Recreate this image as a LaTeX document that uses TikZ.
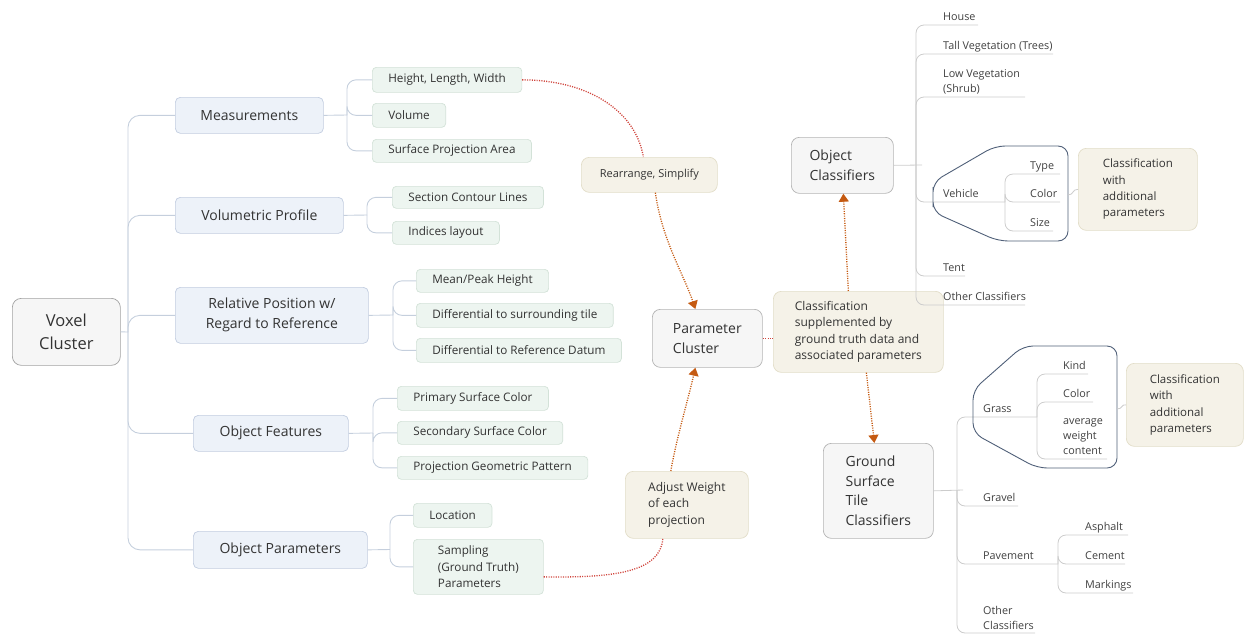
\documentclass[tikz,border=0pt]{standalone}
\usepackage{fontspec}
\setmainfont{Open Sans}
\usetikzlibrary{arrows.meta}

\definecolor{txt}{HTML}{333333}
\definecolor{leaftxt}{HTML}{404040}
\definecolor{lonefill}{HTML}{EDF2F9}
\definecolor{loneline}{HTML}{C2CDE0}
\definecolor{ltwofill}{HTML}{EDF5F0}
\definecolor{ltwoline}{HTML}{D3E2D8}
\definecolor{corefill}{HTML}{F6F6F6}
\definecolor{coreline}{HTML}{B4B4B4}
\definecolor{notefill}{HTML}{F5F2E8}
\definecolor{noteline}{HTML}{E2DDC8}
\definecolor{treeblue}{HTML}{C5CFDD}
\definecolor{treegrey}{HTML}{CCCCCC}
\definecolor{boundary}{HTML}{4F5F78}
\definecolor{relred}{HTML}{D0443C}
\definecolor{relorange}{HTML}{C55A11}

\newcommand\setfs[2]{\fontsize{#1}{#2}\selectfont}

\begin{document}
\begin{tikzpicture}[x=1pt,y=-1pt,
  box/.style={anchor=north west, inner ysep=0pt, text=txt, line width=0.7pt},
  lvone/.style={box, fill=lonefill, draw=loneline, rounded corners=5pt, align=center, font=\setfs{14}{20}},
  lvtwo/.style={box, fill=ltwofill, draw=ltwoline, rounded corners=4pt, inner xsep=16pt, align=left, font=\setfs{11.7}{16.7}},
  core/.style={box, fill=corefill, draw=coreline, rounded corners=8pt, align=left, font=\setfs{14}{19.5}},
  note/.style={box, fill=notefill, draw=noteline, rounded corners=8pt, align=left, font=\setfs{12}{16.5}},
  leaf/.style={anchor=base west, inner sep=0pt, text=leaftxt, align=left, font=\setfs{10.8}{14.7}},
  branchL/.style={draw=treeblue, line width=0.9pt, rounded corners=12pt},
  branchS/.style={draw=treeblue, line width=0.9pt, rounded corners=9pt},
  branchR/.style={draw=treegrey, line width=0.8pt, rounded corners=8pt},
  bound/.style={draw=boundary, line width=0.9pt, rounded corners=10pt},
  relr/.style={draw=relred, line width=1.3pt, dash pattern=on 1.1pt off 1.3pt},
  relo/.style={draw=relorange, line width=1.3pt, dash pattern=on 1.1pt off 1.3pt},
  tip/.style={-{Triangle[width=10pt,length=8pt]}, relorange}
]
\useasboundingbox (0,0) rectangle (1244,635);

% ---------- root ----------
\node[core, align=center, minimum width=108pt, minimum height=67pt,
      font=\setfs{16.5}{23}, rounded corners=9pt, draw=coreline!90!black] (vc) at (12,298) {Voxel\\Cluster};

% ---------- first level ----------
\node[lvone, minimum width=148pt, minimum height=36pt] (m)  at (175,97)  {Measurements};
\node[lvone, minimum width=168pt, minimum height=36pt] (vp) at (175,197) {Volumetric Profile};
\node[lvone, minimum width=193pt, minimum height=56pt] (rp) at (175,287) {Relative Position w/\\Regard to Reference};
\node[lvone, minimum width=155pt, minimum height=36pt] (of) at (193,415) {Object Features};
\node[lvone, minimum width=174pt, minimum height=37pt] (op) at (193,531) {Object Parameters};

% ---------- second level ----------
\node[lvtwo, minimum height=25pt] (hlw) at (372,67)  {Height, Length, Width};
\node[lvtwo, minimum height=24pt] (vol) at (372,103) {Volume};
\node[lvtwo, minimum height=23pt] (spa) at (372,139) {Surface Projection Area};
\node[lvtwo, minimum height=22pt] (scl) at (392,186) {Section Contour Lines};
\node[lvtwo, minimum height=23pt] (il)  at (392,221) {Indices layout};
\node[lvtwo, minimum height=23pt] (mph) at (416,269) {Mean/Peak Height};
\node[lvtwo, minimum height=24pt] (dst) at (416,303) {Differential to surrounding tile};
\node[lvtwo, minimum height=24pt] (drd) at (416,338) {Differential to Reference Datum};
\node[lvtwo, minimum height=24pt] (psc) at (397,386) {Primary Surface Color};
\node[lvtwo, minimum height=23pt] (ssc) at (397,421) {Secondary Surface Color};
\node[lvtwo, minimum height=23pt] (pgp) at (397,456) {Projection Geometric Pattern};
\node[lvtwo, minimum height=24pt] (loc) at (413,503) {Location};
\node[lvtwo, minimum width=130pt, minimum height=55pt] (smp) at (413,539) {Sampling\\(Ground Truth)\\Parameters};

% ---------- left tree ----------
\coordinate (tj) at (128,332);
\draw[branchL] (vc.east) -- (tj);
\foreach \c in {m,vp,rp,of,op} \draw[branchL] (tj) |- (\c.west);

\coordinate (mj) at (347,115);
\draw[branchS] (m.east) -- (mj);
\foreach \c in {hlw,vol,spa} \draw[branchS] (mj) |- (\c.west);
\coordinate (vpj) at (367,215);
\draw[branchS] (vp.east) -- (vpj);
\foreach \c in {scl,il} \draw[branchS] (vpj) |- (\c.west);
\coordinate (rpj) at (393,315);
\draw[branchS] (rp.east) -- (rpj);
\foreach \c in {mph,dst,drd} \draw[branchS] (rpj) |- (\c.west);
\coordinate (ofj) at (373,433);
\draw[branchS] (of.east) -- (ofj);
\foreach \c in {psc,ssc,pgp} \draw[branchS] (ofj) |- (\c.west);
\coordinate (opj) at (390,549.5);
\draw[branchS] (op.east) -- (opj);
\foreach \c in {loc,smp} \draw[branchS] (opj) |- (\c.west);

% ---------- centre ----------
\node[core, minimum width=110pt, minimum height=58pt] (pc) at (652,309) {Parameter\\Cluster};
\node[note, minimum height=35pt, minimum width=136pt, align=center, font=\setfs{11}{15}] (rs) at (581,157) {Rearrange, Simplify};
\node[note, minimum width=123pt, minimum height=67pt] (aw) at (625,471) {Adjust Weight\\of each\\projection};
\node[note, minimum width=170pt, minimum height=81pt] (cs) at (773,291) {Classification\\supplemented by\\ground truth data and\\associated parameters};
\node[core, minimum width=102pt, minimum height=56pt] (oc) at (791,137) {Object\\Classifiers};
\node[core, minimum width=110pt, minimum height=95pt] (gs) at (823,443) {Ground\\Surface\\Tile\\Classifiers};
\node[note, minimum width=119pt, minimum height=82pt, font=\setfs{11.5}{16.3}] (cwa) at (1078,148) {Classification\\with\\additional\\parameters};
\node[note, minimum width=117pt, minimum height=83pt, font=\setfs{11.5}{16.3}] (cwb) at (1126,363) {Classification\\with\\additional\\parameters};

% ---------- relationships ----------
\draw[relr] (hlw.east) .. controls (590,80) and (636,112) .. ([xshift=-6pt]rs.north);
\draw[relo, tip] ([xshift=6pt]rs.south) .. controls (662,240) and (684,275) .. ([xshift=-12pt]pc.north);
\draw[relr] ([yshift=-10pt]smp.east) .. controls (615,578) and (660,572) .. ([xshift=-24pt]aw.south);
\draw[relo, tip] ([xshift=-16pt]aw.north) .. controls (676,440) and (688,400) .. ([xshift=-12pt]pc.south);
\draw[relr] (pc.east) -- (pc.east -| cs.west);
\draw[relo, tip] ([xshift=-10pt]cs.north) -- ([xshift=1pt]oc.south);
\draw[relo, tip] ([xshift=8pt]cs.south) -- ([xshift=-4pt]gs.north);

% ---------- object classifier tree ----------
\coordinate (oj) at (916,165);
\draw[branchR] (oc.east) -- (922,165);
\coordinate (uHouse) at (978,25);
\coordinate (uTall) at (1053,54);
\coordinate (uLow) at (1025,97);
\coordinate (vj) at (1005,202);
\coordinate (uTent) at (965,276);
\coordinate (uOther) at (1025,305);
\coordinate (uType) at (1060,174);
\coordinate (uColor) at (1060,202);
\coordinate (uSize) at (1053,231);
\foreach \u in {uHouse,uTall,uLow,vj,uTent,uOther} \draw[branchR] (oj) |- (\u);
\foreach \u in {uType,uColor,uSize} \draw[branchR] (vj) |- (\u);

% multi-line leaves sit on the baseline of their last line
\node[leaf] (house) at (943,20) {House};
\node[leaf] (tall) at (943,49) {Tall Vegetation (Trees)};
\node[leaf] (low) at (943,92) {Low Vegetation\\(Shrub)};
\node[leaf] (veh) at (943,197) {Vehicle};
\node[leaf] (type) at (1030,169) {Type};
\node[leaf] (vcol) at (1030,197) {Color};
\node[leaf] (size) at (1030,226) {Size};
\node[leaf] (tent) at (943,271) {Tent};
\node[leaf] (oth) at (943,300) {Other Classifiers};

\draw[bound] (933,197) -- (933,182) -- (995,146) -- (1068,146) -- (1068,241) -- (998,241) -- (933,212) -- cycle;
\coordinate (vbR) at (1068,195);
\draw[branchR, rounded corners=0pt] (vbR) .. controls (1074,195) and (1072,189) .. (cwa.west);

% ---------- ground surface tree ----------
\coordinate (gj) at (957,490);
\draw[branchR] (gs.east) -- (963,490);
\coordinate (grj) at (1037,417);
\coordinate (uGravel) at (1018,506);
\coordinate (pj) at (1058,564);
\coordinate (uGOther) at (1035,633);
\coordinate (uKind) at (1088,374);
\coordinate (uGColor) at (1093,402);
\coordinate (uAvg) at (1107,459);
\coordinate (uAsph) at (1128,535);
\coordinate (uCem) at (1125,564);
\coordinate (uMark) at (1133,593);
\foreach \u in {grj,uGravel,pj,uGOther} \draw[branchR] (gj) |- (\u);
\foreach \u in {uKind,uGColor,uAvg} \draw[branchR] (grj) |- (\u);
\foreach \u in {uAsph,uCem,uMark} \draw[branchR] (pj) |- (\u);

\node[leaf] (grass) at (983,412) {Grass};
\node[leaf] (kind) at (1063,369) {Kind};
\node[leaf] (gcol) at (1063,397) {Color};
\node[leaf] (avg) at (1063,454) {average\\weight\\content};
\node[leaf] (grav) at (983,501) {Gravel};
\node[leaf] (pave) at (983,559) {Pavement};
\node[leaf] (asph) at (1085,530) {Asphalt};
\node[leaf] (cem) at (1085,559) {Cement};
\node[leaf] (mark) at (1085,588) {Markings};
\node[leaf] (goth) at (983,629) {Other\\Classifiers};

\draw[bound] (973,412) -- (973,390) -- (1023,346) -- (1117,346) -- (1117,468) -- (1037,468) -- (973,433) -- cycle;
\coordinate (gbR) at (1117,409);
\draw[branchR, rounded corners=0pt] (gbR) .. controls (1123,409) and (1121,404) .. (cwb.west);
\end{tikzpicture}
\end{document}
